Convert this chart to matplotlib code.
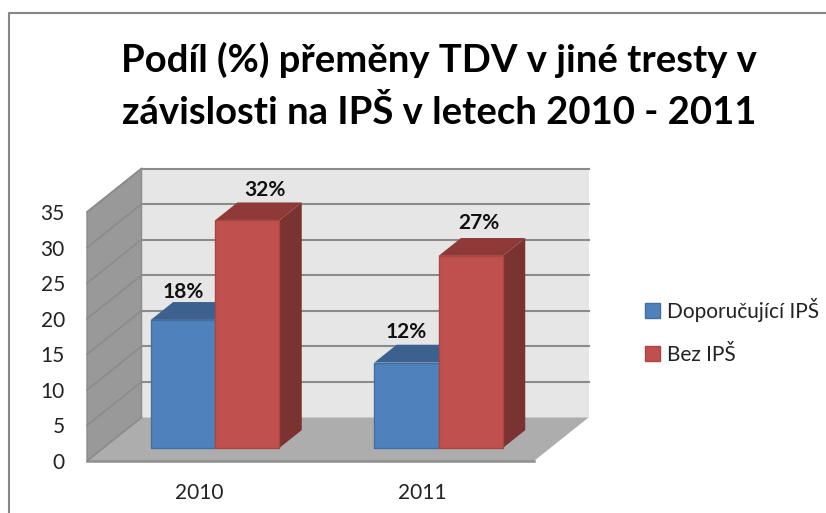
import matplotlib
matplotlib.use("Agg")
import matplotlib.pyplot as plt
from matplotlib.lines import Line2D
from matplotlib.patches import Patch

# Data
title_lines = ["Podíl (%) přeměny TDV v jiné tresty v",
               "závislosti na IPŠ v letech 2010 - 2011"]
years = ["2010", "2011"]
series_names = ["Doporučující IPŠ", "Bez IPŠ"]
doporucujici = [18, 12]
bez = [32, 27]
doporucujici_labels = ["18%", "12%"]
bez_labels = ["32%", "27%"]
y_ticks = [0, 5, 10, 15, 20, 25, 30, 35]

W, H = 826, 513
FONT = "Lato"
plt.rcParams["font.family"] = [FONT, "DejaVu Sans"]

fig = plt.figure(figsize=(W / 100, H / 100), dpi=100, facecolor="white")
# front plane of the 3D box: x 87-534 px, y 461 (0) - 212 (35) px
L, R, B, T = 87, 534, 461, 212
ax = fig.add_axes([L / W, 1 - B / H, (R - L) / W, (B - T) / H])
ax.set_xlim(0, 2)
ax.set_ylim(0, 35)
ax.patch.set_visible(False)
for s in ax.spines.values():
    s.set_visible(False)

# depth expressed in data units
DX = 54.5 / ((R - L) / 2)
DY = 43.5 / ((B - T) / 35)
YMAX = y_ticks[-1]
XMAX = len(years)


def proj(x, y, d):
    return x + d * DX, y + d * DY


def poly(pts, **kw):
    xs, ys = zip(*[proj(*p) for p in pts])
    ax.fill(xs, ys, clip_on=False, **kw)


GRID = "#8b8b8b"
# back wall, side wall, floor
poly([(0, 0, 1), (XMAX, 0, 1), (XMAX, YMAX, 1), (0, YMAX, 1)], fc="#e6e6e6", ec="none", zorder=1)
poly([(0, 0, 0), (0, 0, 1), (0, YMAX, 1), (0, YMAX, 0)], fc="#999999", ec="#8b8b8b", lw=1, zorder=1)
poly([(0, 0, 0), (XMAX, 0, 0), (XMAX, 0, 1), (0, 0, 1)], fc="#adadad", ec="none", zorder=1.5)
for v in y_ticks:
    if v == 0:
        continue
    x0, y0 = proj(0, v, 1)
    x1, y1 = proj(XMAX, v, 1)
    ax.plot([x0, x1], [y0, y1], color=GRID, lw=1.5, clip_on=False, zorder=2)
for v in y_ticks:
    x0, y0 = proj(0, v, 0)
    x1, y1 = proj(0, v, 1)
    ax.plot([x0, x1], [y0, y1], color=GRID, lw=1.2, clip_on=False, zorder=2)
x0, y0 = proj(0, 0, 0)
x1, y1 = proj(XMAX, 0, 0)
ax.plot([x0, x1], [y0, y1], color="#8f8f8f", lw=1.8, clip_on=False, zorder=2)

# bars
BW = 64.3 / ((R - L) / 2)
D0, D1 = 0.30, 0.71
styles = [("#4f81bd", "#3c618f", "#375a85", "#41709f"),
          ("#c0504d", "#8f3a38", "#7a3331", "#a84643")]
centers = [0.5, 1.5]
label_offsets = {0: [(0, 28), (0, 31)], 1: [(18, 30), (8, 33)]}

for s, (vals, labels) in enumerate([(doporucujici, doporucujici_labels), (bez, bez_labels)]):
    front, top, side, edge = styles[s]
    for i, v in enumerate(vals):
        xl = centers[i] - BW + s * BW
        xr = xl + BW
        z = 3 + s + i * 2
        poly([(xr, 0, D0), (xr, 0, D1), (xr, v, D1), (xr, v, D0)], fc=side, ec="none", zorder=z)
        poly([(xl, v, D0), (xr, v, D0), (xr, v, D1), (xl, v, D1)], fc=top, ec="none", zorder=z)
        fx, fy = proj(xl, 0, D0)
        ax.bar(fx, v, BW, bottom=fy, align="edge", color=front, edgecolor=edge,
               lw=1, clip_on=False, zorder=z + 0.5)
        ox, oy = label_offsets[s][i]
        ax.annotate(labels[i], (fx + BW / 2, fy + v), xytext=(ox * 0.72, oy * 0.72),
                    textcoords="offset points", ha="center", va="center",
                    fontsize=15, fontweight="bold", color="#111111",
                    annotation_clip=False, zorder=10)

# axes ticks
ax.set_xticks(centers, years)
ax.set_yticks(y_ticks)
ax.tick_params(axis="both", length=0, labelsize=15, labelcolor="#222222")
ax.tick_params(axis="x", pad=16)
ax.tick_params(axis="y", pad=16)

# title
for line, py in zip(title_lines, (60, 113)):
    fig.text(439 / W, 1 - py / H, line, ha="center", va="center",
             fontsize=27.5, fontweight="bold", color="black")

# legend
handles = [Patch(fc=styles[i][0], ec=styles[i][3]) for i in range(2)]
fig.legend(handles, series_names, loc="center left", bbox_to_anchor=(645 / W, 1 - 331.5 / H),
           frameon=False, fontsize=15, handlelength=0.72, handleheight=0.72,
           handletextpad=0.35, labelspacing=1.1, labelcolor="#222222", borderpad=0, borderaxespad=0)

# chart frame
fig.add_artist(Line2D([9 / W, 9 / W, 1], [0, 1 - 12.5 / H, 1 - 12.5 / H], color="#868686", lw=1.5,
                      transform=fig.transFigure))

fig.savefig("out.png", dpi=100)
